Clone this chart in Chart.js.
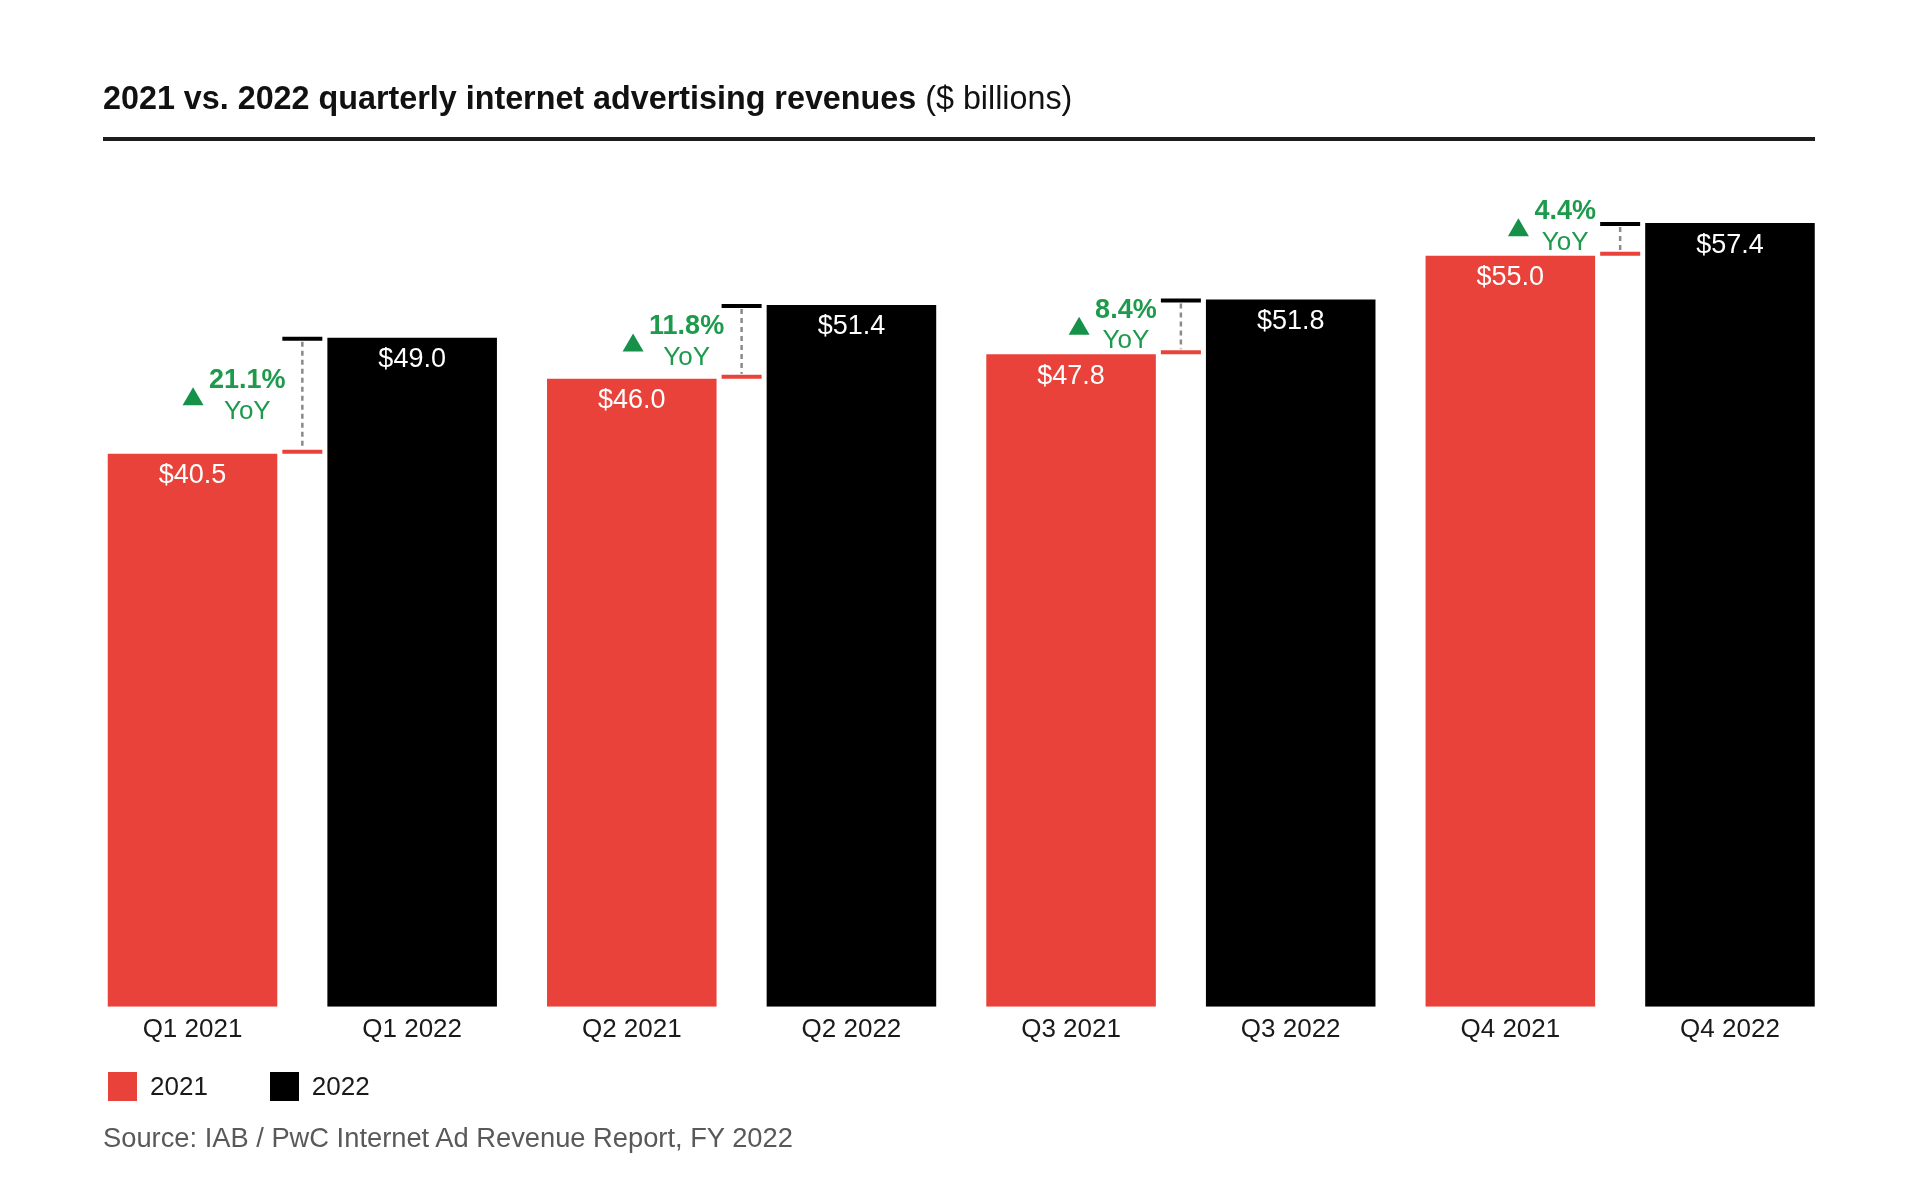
<!DOCTYPE html>
<html lang="en">
<head>
<meta charset="UTF-8">
<title>2021 vs. 2022 quarterly internet advertising revenues</title>
<script src="https://cdn.jsdelivr.net/npm/chart.js"></script>
<style>
  html, body { margin: 0; padding: 0; background: #ffffff; }
  body { width: 1920px; height: 1196px; position: relative; overflow: hidden;
         font-family: "Liberation Sans", Arial, sans-serif; }
  #wrap { position: absolute; left: 0; top: 0; width: 1920px; height: 1196px; }
  .title { position: absolute; left: 103px; top: 82px; font-size: 32.3px; line-height: 32px;
           color: #111; white-space: nowrap; }
  .title b { font-weight: 700; }
  .rule { position: absolute; left: 103px; top: 137px; width: 1712px; height: 4px; background: #1e1e1e; }
  .legend { position: absolute; left: 108px; top: 1071px; display: flex; align-items: center; }
  .legend .item { display: flex; align-items: center; margin-right: 62px; }
  .legend .sw { width: 29px; height: 29px; margin-right: 13px; }
  .legend span { font-size: 26px; color: #1a1a1a; }
  .source { position: absolute; left: 103px; top: 1124px; font-size: 27.3px; line-height: 27px; color: #595959; white-space: nowrap; }
</style>
</head>
<body>
<div id="wrap"><canvas id="adChart"></canvas></div>
<div class="title"><b>2021 vs. 2022 quarterly internet advertising revenues</b> ($ billions)</div>
<div class="rule"></div>
<div class="legend" id="legend"></div>
<div class="source">Source: IAB / PwC Internet Ad Revenue Report, FY 2022</div>

<script>
// data ($ billions)
const categories = ['Q1 2021', 'Q1 2022', 'Q2 2021', 'Q2 2022', 'Q3 2021', 'Q3 2022', 'Q4 2021', 'Q4 2022'];
const seriesNames = ['2021', '2022'];
const revenue2021 = [40.5, null, 46.0, null, 47.8, null, 55.0, null];
const revenue2022 = [null, 49.0, null, 51.4, null, 51.8, null, 57.4];
const yoyGrowth = ['21.1%', '11.8%', '8.4%', '4.4%'];

const RED = '#e8423a';
const BLACK = '#000000';
const GREEN = '#1d9a4c';
const FONT = '"Liberation Sans", Arial, sans-serif';

// legend in html, built from the series
const legendEl = document.getElementById('legend');
[[seriesNames[0], RED], [seriesNames[1], BLACK]].forEach(([name, col]) => {
    const item = document.createElement('div');
    item.className = 'item';
    item.innerHTML = '<div class="sw" style="background:' + col + '"></div><span>' + name + '</span>';
    legendEl.appendChild(item);
});

// white value labels inside the bar tops + yoy markers between each pair
const annotations = {
    id: 'annotations',
    afterDatasetsDraw(chart) {
        const ctx = chart.ctx;
        const bars21 = chart.getDatasetMeta(0).data;
        const bars22 = chart.getDatasetMeta(1).data;
        ctx.save();

        // value labels
        ctx.fillStyle = '#ffffff';
        ctx.font = '27px ' + FONT;
        ctx.textAlign = 'center';
        ctx.textBaseline = 'middle';
        chart.data.datasets.forEach((ds, di) => {
            const bars = di === 0 ? bars21 : bars22;
            ds.data.forEach((v, i) => {
                if (v === null) return;
                ctx.fillText('$' + v.toFixed(1), bars[i].x, bars[i].y + 22);
            });
        });

        // yoy markers
        yoyGrowth.forEach((txt, q) => {
            const r = bars21[q * 2];
            const b = bars22[q * 2 + 1];
            const lineX = ((r.x + r.width / 2) + (b.x - b.width / 2)) / 2;
            const redY = r.y, blackY = b.y;

            ctx.lineWidth = 4;
            ctx.setLineDash([]);
            ctx.strokeStyle = BLACK;
            ctx.beginPath(); ctx.moveTo(lineX - 20, blackY + 1); ctx.lineTo(lineX + 20, blackY + 1); ctx.stroke();
            ctx.strokeStyle = RED;
            ctx.beginPath(); ctx.moveTo(lineX - 20, redY - 2); ctx.lineTo(lineX + 20, redY - 2); ctx.stroke();

            ctx.strokeStyle = '#8a8a8a';
            ctx.lineWidth = 2.5;
            ctx.setLineDash([5, 4]);
            ctx.beginPath(); ctx.moveTo(lineX, blackY + 4); ctx.lineTo(lineX, redY - 5); ctx.stroke();
            ctx.setLineDash([]);

            // text block sits between the two tops, kept clear of the red bar
            const yoyY = Math.min((redY + blackY) / 2 + 16, redY - 13);
            const pctY = yoyY - 31;
            const cx = lineX - 55;
            ctx.fillStyle = GREEN;
            ctx.textAlign = 'center';
            ctx.font = 'bold 27px ' + FONT;
            ctx.fillText(txt, cx, pctY);
            const pctW = ctx.measureText(txt).width;
            ctx.font = '26px ' + FONT;
            ctx.fillText('YoY', cx, yoyY);

            // up triangle
            const tx = cx - pctW / 2 - 16, ty = (pctY + yoyY) / 2;
            ctx.fillStyle = '#16914a';
            ctx.beginPath();
            ctx.moveTo(tx, ty - 9);
            ctx.lineTo(tx + 10.5, ty + 9);
            ctx.lineTo(tx - 10.5, ty + 9);
            ctx.closePath();
            ctx.fill();
        });
        ctx.restore();
    }
};

const ctx = document.getElementById('adChart').getContext('2d');
const adChart = new Chart(ctx, {
    type: 'bar',
    data: {
        labels: categories,
        datasets: [
            { label: seriesNames[0], data: revenue2021, backgroundColor: RED },
            { label: seriesNames[1], data: revenue2022, backgroundColor: BLACK }
        ]
    },
    options: {
        responsive: true,
        maintainAspectRatio: false,
        animation: false,
        skipNull: true,
        categoryPercentage: 1,
        barPercentage: 0.772,
        layout: { padding: { top: 187.6, left: 82.7, right: 80.2, bottom: 144 } },
        scales: {
            x: {
                grid: { display: false, drawTicks: false },
                border: { display: false },
                ticks: { font: { family: FONT, size: 26 }, color: '#1a1a1a', padding: 7 }
            },
            y: { display: false, min: 0, max: 60 }
        },
        plugins: {
            legend: { display: false },
            title: { display: false },
            tooltip: { enabled: false }
        }
    },
    plugins: [annotations]
});
</script>
</body>
</html>
